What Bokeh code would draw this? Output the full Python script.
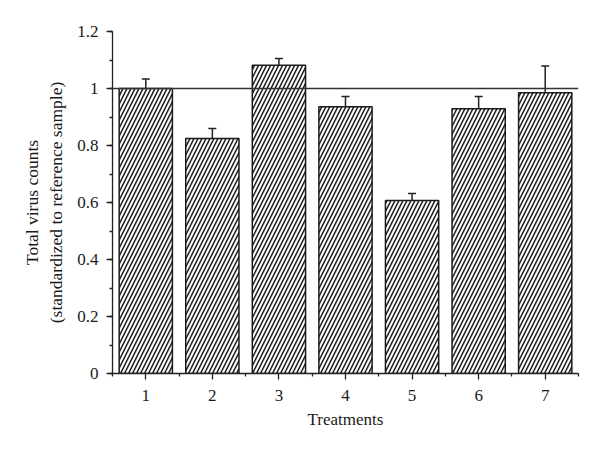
from bokeh.plotting import figure
from bokeh.models import Range1d, FixedTicker, Span, Whisker, ColumnDataSource, TeeHead
from bokeh.embed import file_html
from bokeh.resources import INLINE

treatments = [1, 2, 3, 4, 5, 6, 7]
values = [1.00, 0.825, 1.082, 0.936, 0.607, 0.929, 0.985]
errors = [0.033, 0.035, 0.023, 0.036, 0.025, 0.043, 0.094]
y_ticks = [0, 0.2, 0.4, 0.6, 0.8, 1.0, 1.2]
y_labels = {0: "0", 0.2: "0.2", 0.4: "0.4", 0.6: "0.6", 0.8: "0.8", 1.0: "1", 1.2: "1.2"}

src = ColumnDataSource(dict(
    x=treatments, top=values,
    upper=[v + e for v, e in zip(values, errors)],
    lower=[v - e for v, e in zip(values, errors)],
))

FONT = "Liberation Serif"
p = figure(frame_width=466, frame_height=342, output_backend="svg", toolbar_location=None,
           x_range=Range1d(0.5, 7.5), y_range=Range1d(0, 1.2),
           min_border_left=112, min_border_top=31, min_border_right=6, min_border_bottom=40)
p.outline_line_color = None
p.grid.grid_line_color = None
p.background_fill_color = "white"

p.vbar(x="x", top="top", width=0.8, source=src, fill_color="white", line_color="#1a1a1a",
       line_width=1.5, hatch_pattern="/", hatch_color="#1a1a1a", hatch_scale=8, hatch_weight=1.5)

p.add_layout(Span(location=1, dimension="width", line_color="#333333", line_width=1.5))

w = Whisker(base="x", upper="upper", lower="lower", source=src, line_color="#222222", line_width=1.5,
            upper_head=TeeHead(size=8, line_color="#222222", line_width=1.5),
            lower_head=TeeHead(size=8, line_color="#222222", line_width=1.5))
p.add_layout(w)

p.xaxis.ticker = FixedTicker(ticks=treatments, minor_ticks=[0.5 + i for i in range(8)])
p.yaxis.ticker = FixedTicker(ticks=y_ticks, minor_ticks=[i / 10 for i in range(13)])
p.yaxis.major_label_overrides = y_labels

for ax in (p.xaxis[0], p.yaxis[0]):
    ax.axis_line_color = "#222222"
    ax.axis_line_width = 1.3
    ax.major_tick_line_color = "#222222"
    ax.minor_tick_line_color = "#222222"
    ax.major_tick_line_width = 1.3
    ax.minor_tick_line_width = 1.3
    ax.major_tick_in = 0
    ax.minor_tick_in = 0
    ax.major_tick_out = 6
    ax.minor_tick_out = 3
    ax.major_label_text_font = FONT
    ax.major_label_text_font_size = "17px"
    ax.major_label_text_color = "#1a1a1a"
    ax.axis_label_text_font = FONT
    ax.axis_label_text_font_size = "17px"
    ax.axis_label_text_font_style = "normal"
    ax.axis_label_text_color = "#1a1a1a"

p.xaxis.axis_label = "Treatments"
p.xaxis.major_label_standoff = 10
p.xaxis.axis_label_standoff = 6
p.yaxis.axis_label = "Total virus counts\n(standardized to reference sample)"
p.yaxis.axis_label_text_font_size = "17.5px"
p.yaxis.major_label_standoff = 8
p.yaxis.axis_label_standoff = 8

open("out.html", "w").write(file_html(p, INLINE))
